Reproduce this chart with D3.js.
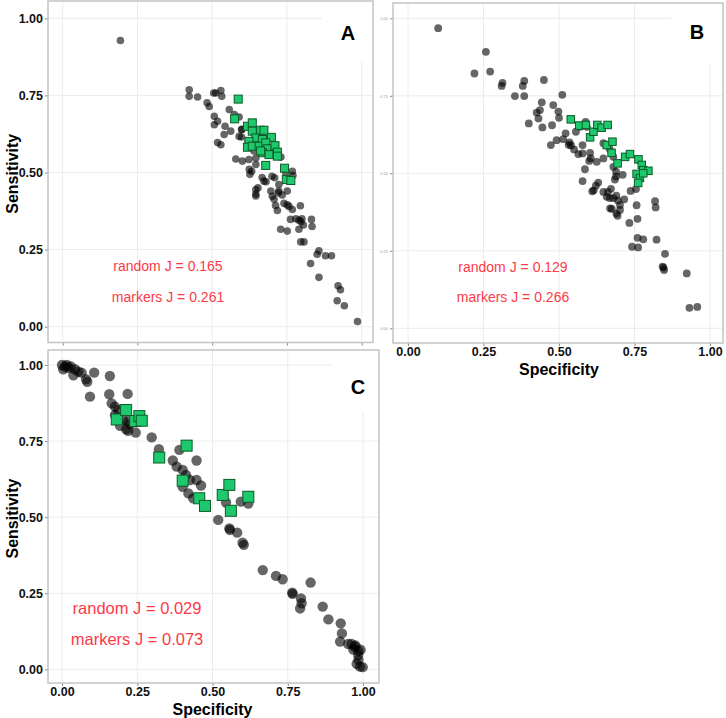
<!DOCTYPE html>
<html>
<head>
  <meta charset="UTF-8">
  <title>Sensitivity vs specificity</title>
  <script src="https://d3js.org/d3.v7.min.js"></script>
  <style>
    body { margin: 0; background: #fff; }
    svg { display: block; font-family: "Liberation Sans", Arial, sans-serif; }
  </style>
</head>
<body>
<svg></svg>
<script>
  let width = 726,
    height = 718;

  // axis ticks, shared by all panels
  let tickValues = [0, 0.25, 0.5, 0.75, 1];
  let tickLabels = ["0.00", "0.25", "0.50", "0.75", "1.00"];

  // panel A: [specificity, sensitivity]
  let aRandom = [
    [0.193, 0.928],
    [0.423, 0.768], [0.423, 0.747], [0.451, 0.745], [0.483, 0.726], [0.49, 0.714],
    [0.505, 0.758], [0.512, 0.758], [0.529, 0.766], [0.532, 0.747],
    [0.507, 0.682], [0.518, 0.666], [0.507, 0.655], [0.518, 0.597], [0.529, 0.59], [0.54, 0.623],
    [0.557, 0.704], [0.574, 0.688], [0.562, 0.634], [0.543, 0.65], [0.59, 0.68], [0.59, 0.617],
    [0.598, 0.639], [0.598, 0.615],
    [0.579, 0.544], [0.601, 0.537], [0.623, 0.542], [0.624, 0.51], [0.626, 0.494], [0.646, 0.526],
    [0.646, 0.547], [0.632, 0.504], [0.653, 0.45], [0.646, 0.43],
    [0.646, 0.445], [0.646, 0.424], [0.667, 0.484], [0.673, 0.472], [0.68, 0.47],
    [0.696, 0.44], [0.701, 0.423], [0.707, 0.413], [0.70, 0.488], [0.712, 0.393], [0.718, 0.377],
    [0.723, 0.461], [0.723, 0.44], [0.721, 0.434], [0.709, 0.483], [0.734, 0.427], [0.751, 0.44],
    [0.746, 0.499], [0.768, 0.504], [0.77, 0.49],
    [0.74, 0.4], [0.751, 0.395], [0.729, 0.316], [0.751, 0.31], [0.757, 0.39], [0.768, 0.38],
    [0.78, 0.35], [0.79, 0.345], [0.797, 0.34], [0.8, 0.35], [0.762, 0.348], [0.795, 0.392],
    [0.79, 0.316], [0.805, 0.33],
    [0.832, 0.348], [0.834, 0.325], [0.796, 0.275], [0.807, 0.275], [0.829, 0.205], [0.851, 0.235],
    [0.857, 0.246], [0.857, 0.16], [0.879, 0.23], [0.899, 0.23], [0.921, 0.133], [0.929, 0.12],
    [0.918, 0.084], [0.942, 0.068], [0.986, 0.017],
    [0.6, 0.64], [0.62, 0.6], [0.66, 0.59], [0.69, 0.57], [0.73, 0.55], [0.64, 0.57]
  ];
  let aMarkers = [
    [0.587, 0.738], [0.575, 0.674], [0.618, 0.65], [0.634, 0.661], [0.634, 0.634], [0.662, 0.637],
    [0.673, 0.637], [0.646, 0.612], [0.668, 0.607], [0.698, 0.614], [0.623, 0.601], [0.618, 0.582],
    [0.634, 0.585], [0.657, 0.585], [0.679, 0.596], [0.684, 0.577], [0.71, 0.587], [0.668, 0.564],
    [0.69, 0.558], [0.718, 0.566], [0.718, 0.553], [0.662, 0.57], [0.679, 0.523], [0.742, 0.514],
    [0.748, 0.477], [0.763, 0.474]
  ];

  // panel B
  let bRandom = [
    [0.1, 0.968], [0.258, 0.892], [0.22, 0.822], [0.272, 0.828], [0.313, 0.792], [0.31, 0.782],
    [0.354, 0.749], [0.38, 0.782], [0.385, 0.798], [0.385, 0.749], [0.45, 0.801], [0.511, 0.753],
    [0.443, 0.729], [0.481, 0.72], [0.498, 0.699], [0.5, 0.679], [0.426, 0.696], [0.437, 0.704],
    [0.432, 0.677], [0.4, 0.661], [0.445, 0.648], [0.477, 0.655], [0.522, 0.629], [0.514, 0.61],
    [0.473, 0.591], [0.492, 0.607], [0.535, 0.6], [0.532, 0.592], [0.54, 0.59],
    [0.556, 0.634], [0.57, 0.65], [0.588, 0.666], [0.592, 0.65],
    [0.55, 0.577], [0.564, 0.562], [0.578, 0.591], [0.578, 0.564], [0.603, 0.566], [0.625, 0.537],
    [0.586, 0.513], [0.578, 0.475], [0.6, 0.54], [0.605, 0.548],
    [0.647, 0.597], [0.647, 0.548], [0.66, 0.59], [0.668, 0.578], [0.68, 0.553], [0.68, 0.521],
    [0.689, 0.505], [0.689, 0.49], [0.685, 0.48],
    [0.63, 0.47], [0.622, 0.46], [0.615, 0.445], [0.61, 0.442],
    [0.647, 0.44], [0.658, 0.424], [0.662, 0.44], [0.672, 0.45], [0.668, 0.42], [0.68, 0.42],
    [0.69, 0.428], [0.695, 0.412], [0.716, 0.416],
    [0.669, 0.387], [0.675, 0.385], [0.702, 0.398], [0.702, 0.382], [0.694, 0.363], [0.69, 0.37],
    [0.711, 0.495], [0.737, 0.443], [0.755, 0.449], [0.757, 0.397], [0.733, 0.34], [0.76, 0.353],
    [0.818, 0.41], [0.82, 0.39], [0.76, 0.292], [0.779, 0.287], [0.762, 0.261], [0.742, 0.263],
    [0.823, 0.286], [0.851, 0.24], [0.843, 0.199], [0.848, 0.188], [0.846, 0.196],
    [0.923, 0.177], [0.932, 0.066], [0.958, 0.069]
  ];
  let bMarkers = [
    [0.539, 0.674], [0.567, 0.654], [0.589, 0.656], [0.603, 0.616], [0.614, 0.634], [0.627, 0.656],
    [0.641, 0.647], [0.661, 0.656], [0.658, 0.591], [0.677, 0.602], [0.674, 0.566], [0.694, 0.532],
    [0.719, 0.553], [0.735, 0.562], [0.763, 0.545], [0.774, 0.527], [0.779, 0.51], [0.796, 0.508],
    [0.757, 0.498], [0.768, 0.485], [0.762, 0.469], [0.779, 0.5]
  ];

  // panel C
  let cRandom = [
    [0, 1.0], [0.016, 1.0], [0.029, 0.995], [0.043, 0.986], [0.004, 0.986], [0.054, 0.978],
    [0.038, 0.966], [0.065, 0.975], [0.01, 0.995], [0.022, 0.99],
    [0.08, 0.953], [0.084, 0.945], [0.107, 0.975], [0.093, 0.896], [0.159, 0.964], [0.157, 0.904],
    [0.165, 0.874], [0.176, 0.863], [0.187, 0.852], [0.176, 0.836], [0.218, 0.905],
    [0.193, 0.8], [0.213, 0.789], [0.22, 0.784], [0.203, 0.82], [0.22, 0.815], [0.226, 0.805],
    [0.245, 0.778], [0.298, 0.762], [0.322, 0.723], [0.368, 0.686], [0.39, 0.721],
    [0.381, 0.666], [0.401, 0.655], [0.447, 0.686], [0.412, 0.639], [0.425, 0.622], [0.401, 0.6],
    [0.447, 0.622], [0.462, 0.604], [0.42, 0.578], [0.436, 0.562],
    [0.519, 0.491], [0.545, 0.548], [0.556, 0.463], [0.558, 0.458], [0.582, 0.449],
    [0.6, 0.416], [0.604, 0.409], [0.594, 0.551], [0.619, 0.545],
    [0.667, 0.326], [0.711, 0.307], [0.733, 0.296], [0.826, 0.285], [0.765, 0.252], [0.766, 0.248],
    [0.794, 0.233], [0.796, 0.217], [0.791, 0.2], [0.866, 0.206], [0.885, 0.164],
    [0.926, 0.151], [0.93, 0.118], [0.924, 0.091], [0.951, 0.083], [0.962, 0.083], [0.973, 0.074],
    [0.968, 0.065], [0.985, 0.06], [0.975, 0.078], [0.992, 0.064],
    [0.984, 0.047], [0.979, 0.018], [0.99, 0.009], [0.999, 0.007], [0.985, 0.031]
  ];
  let cMarkers = [
    [0.182, 0.821], [0.213, 0.852], [0.243, 0.816], [0.257, 0.832], [0.265, 0.817], [0.323, 0.696],
    [0.414, 0.735], [0.401, 0.62], [0.456, 0.562], [0.475, 0.537], [0.534, 0.573], [0.556, 0.606],
    [0.561, 0.521], [0.619, 0.567]
  ];

  let panels = [
    {
      letter: "A", random: aRandom, markers: aMarkers,
      jRandom: "random J = 0.165", jMarkers: "markers J = 0.261",
      frame: [48, 1, 373, 342.5], x: [62.7, 361.7], y: [326.7, 18.3],
      r: 3.8, sq: 8, font: 14, textX: 168, textY: [266, 297],
      letterXY: [348, 33], yTitle: true, xTitle: false, xLabels: false, tinyY: false
    },
    {
      letter: "B", random: bRandom, markers: bMarkers,
      jRandom: "random J = 0.129", jMarkers: "markers J = 0.266",
      frame: [393, 3, 723, 343], x: [408, 710], y: [328.3, 18.3],
      r: 3.9, sq: 7.5, font: 14, textX: 513, textY: [267, 297],
      letterXY: [697, 32], yTitle: false, xTitle: true, xLabels: true, tinyY: true
    },
    {
      letter: "C", random: cRandom, markers: cMarkers,
      jRandom: "random J = 0.029", jMarkers: "markers J = 0.073",
      frame: [48, 350, 379, 683], x: [62, 363], y: [669.3, 365],
      r: 5.2, sq: 11, font: 16.5, textX: 137, textY: [608, 639],
      letterXY: [358, 387], yTitle: true, xTitle: true, xLabels: true, tinyY: false
    }
  ];

  let svg = d3.select("svg")
    .attr("width", width)
    .attr("height", height);

  panels.forEach(p => {
    let x = d3.scaleLinear().domain([0, 1]).range(p.x);
    let y = d3.scaleLinear().domain([0, 1]).range(p.y);
    let [x0, y0, x1, y1] = p.frame;
    let g = svg.append("g");

    // grid
    g.append("g").selectAll("line.v")
      .data(tickValues)
      .enter()
      .append("line")
      .attr("x1", d => x(d)).attr("x2", d => x(d))
      .attr("y1", y0).attr("y2", y1)
      .attr("stroke", "#ececec");
    g.append("g").selectAll("line.h")
      .data(tickValues)
      .enter()
      .append("line")
      .attr("x1", x0).attr("x2", x1)
      .attr("y1", d => y(d)).attr("y2", d => y(d))
      .attr("stroke", "#ececec");

    // axes: ticks only, frame drawn below
    let yAxis = d3.axisLeft(y).tickValues(tickValues).tickSize(3).tickPadding(2)
      .tickFormat((d, i) => tickLabels[i]);
    let xAxis = d3.axisBottom(x).tickValues(tickValues).tickSize(3).tickPadding(1)
      .tickFormat((d, i) => tickLabels[i]);

    let ya = g.append("g").attr("transform", "translate(" + x0 + ",0)").call(yAxis);
    let xa = g.append("g").attr("transform", "translate(0," + y1 + ")").call(xAxis);
    [ya, xa].forEach(a => {
      a.select(".domain").remove();
      a.selectAll(".tick line").attr("stroke", "#888");
      a.selectAll(".tick text")
        .attr("fill", "#111")
        .style("font-size", "12.5px")
        .style("font-weight", "bold")
        .style("font-family", "'Liberation Sans', Arial, sans-serif");
    });
    if (p.tinyY) {
      ya.selectAll(".tick text").style("font-size", "4px").style("font-weight", "normal").attr("fill", "#999");
    }
    if (!p.xLabels) xa.selectAll(".tick text").remove();

    // points
    g.append("g").selectAll("circle")
      .data(p.random)
      .enter()
      .append("circle")
      .attr("cx", d => x(d[0]))
      .attr("cy", d => y(d[1]))
      .attr("r", p.r)
      .attr("fill", "#000")
      .attr("fill-opacity", 0.6);

    g.append("g").selectAll("rect")
      .data(p.markers)
      .enter()
      .append("rect")
      .attr("x", d => x(d[0]) - p.sq / 2)
      .attr("y", d => y(d[1]) - p.sq / 2)
      .attr("width", p.sq)
      .attr("height", p.sq)
      .attr("fill", "#1ec86c")
      .attr("stroke", "#0b5a26")
      .attr("stroke-width", 1);

    // J values
    g.append("g").selectAll("text")
      .data([p.jRandom, p.jMarkers])
      .enter()
      .append("text")
      .attr("x", p.textX)
      .attr("y", (d, i) => p.textY[i] + p.font * 0.35)
      .attr("text-anchor", "middle")
      .attr("fill", "#fb3a48")
      .style("font-size", p.font + "px")
      .text(d => d);

    // panel letter on white patch
    g.append("rect")
      .attr("x", p.letterXY[0] - 26).attr("y", y0 + 1)
      .attr("width", x1 - p.letterXY[0] + 25).attr("height", 60)
      .attr("fill", "#fff");
    g.append("text")
      .attr("x", p.letterXY[0])
      .attr("y", p.letterXY[1] + 7)
      .attr("text-anchor", "middle")
      .style("font-size", "20px")
      .style("font-weight", "bold")
      .text(p.letter);

    // frame
    g.append("rect")
      .attr("x", x0).attr("y", y0)
      .attr("width", x1 - x0).attr("height", y1 - y0)
      .attr("fill", "none")
      .attr("stroke", "#c4c4c4")
      .attr("stroke-width", 1.5);

    if (p.yTitle) {
      g.append("text")
        .attr("transform", "translate(" + 18 + "," + ((y0 + y1) / 2 + 2) + ") rotate(-90)")
        .attr("text-anchor", "middle")
        .style("font-size", "16px")
        .style("font-weight", "bold")
        .text("Sensitivity");
    }
    if (p.xTitle) {
      g.append("text")
        .attr("x", (p.x[0] + p.x[1]) / 2)
        .attr("y", y1 + 32)
        .attr("text-anchor", "middle")
        .style("font-size", "16px")
        .style("font-weight", "bold")
        .text("Specificity");
    }
  });
</script>
</body>
</html>
